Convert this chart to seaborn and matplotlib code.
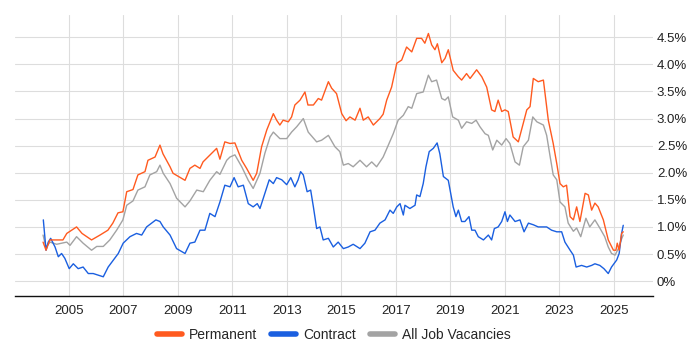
import seaborn as sns
import pandas as pd
import matplotlib.pyplot as plt
from matplotlib.ticker import FuncFormatter

# Permanent
perm_year = [2004.05, 2004.16, 2004.30, 2004.78, 2004.92, 2005.28, 2005.48, 2005.83, 2006.14, 2006.43,
             2006.61, 2006.80, 2006.98, 2007.12, 2007.35, 2007.53, 2007.79, 2007.90, 2008.16, 2008.34,
             2008.45, 2008.71, 2008.82, 2009.26, 2009.44, 2009.62, 2009.81, 2009.92, 2010.24, 2010.42,
             2010.54, 2010.72, 2010.91, 2011.09, 2011.34, 2011.52, 2011.76, 2011.89, 2012.07, 2012.26,
             2012.50, 2012.62, 2012.74, 2012.86, 2013.05, 2013.17, 2013.29, 2013.48, 2013.66, 2013.77,
             2013.97, 2014.15, 2014.27, 2014.52, 2014.64, 2014.82, 2015.01, 2015.17, 2015.31, 2015.50,
             2015.68, 2015.80, 2015.98, 2016.17, 2016.41, 2016.53, 2016.66, 2016.84, 2017.03, 2017.21,
             2017.39, 2017.58, 2017.76, 2017.94, 2018.06, 2018.19, 2018.31, 2018.43, 2018.52, 2018.68,
             2018.80, 2018.92, 2019.10, 2019.29, 2019.41, 2019.59, 2019.72, 2019.96, 2020.15, 2020.33,
             2020.51, 2020.63, 2020.75, 2020.88, 2021.00, 2021.12, 2021.30, 2021.49, 2021.67, 2021.80,
             2021.92, 2022.04, 2022.22, 2022.41, 2022.59, 2022.77, 2022.90, 2023.02, 2023.14, 2023.26,
             2023.39, 2023.51, 2023.63, 2023.75, 2023.94, 2024.06, 2024.18, 2024.30, 2024.42, 2024.61,
             2024.79, 2024.98, 2025.07, 2025.12, 2025.19, 2025.28, 2025.34]
perm_pct = [0.72, 0.57, 0.76, 0.76, 0.88, 1.00, 0.88, 0.76, 0.85, 0.94,
            1.07, 1.26, 1.28, 1.65, 1.69, 1.96, 2.02, 2.23, 2.29, 2.51,
            2.35, 2.11, 1.99, 1.86, 2.08, 2.14, 2.08, 2.20, 2.36, 2.45,
            2.25, 2.57, 2.54, 2.55, 2.23, 2.08, 1.86, 1.99, 2.48, 2.79,
            3.09, 2.97, 2.88, 2.97, 2.94, 3.03, 3.25, 3.34, 3.49, 3.25,
            3.25, 3.37, 3.34, 3.68, 3.56, 3.46, 3.09, 2.96, 3.03, 2.97,
            3.19, 2.97, 3.03, 2.88, 3.00, 3.08, 3.34, 3.58, 4.02, 4.08,
            4.32, 4.23, 4.48, 4.48, 4.39, 4.57, 4.36, 4.27, 4.38, 4.03,
            4.11, 4.27, 3.89, 3.77, 3.71, 3.83, 3.74, 3.90, 3.77, 3.58,
            3.16, 3.13, 3.34, 3.13, 3.16, 3.13, 2.66, 2.57, 2.91, 3.16,
            3.22, 3.74, 3.68, 3.71, 2.97, 2.54, 2.17, 1.80, 1.74, 1.77,
            1.19, 1.13, 1.37, 1.10, 1.62, 1.59, 1.31, 1.44, 1.37, 1.13,
            0.76, 0.57, 0.57, 0.70, 0.57, 0.88, 0.91]

# Contract
contract_year = [2004.06, 2004.16, 2004.24, 2004.33, 2004.49, 2004.61, 2004.73, 2004.85, 2005.01, 2005.16,
                 2005.34, 2005.52, 2005.71, 2005.89, 2006.08, 2006.26, 2006.44, 2006.63, 2006.81, 2006.99,
                 2007.24, 2007.48, 2007.67, 2007.85, 2008.03, 2008.19, 2008.34, 2008.46, 2008.71, 2008.95,
                 2009.26, 2009.44, 2009.62, 2009.81, 2009.99, 2010.17, 2010.36, 2010.54, 2010.72, 2010.91,
                 2011.06, 2011.21, 2011.40, 2011.58, 2011.76, 2011.91, 2012.01, 2012.19, 2012.35, 2012.50,
                 2012.62, 2012.81, 2012.99, 2013.14, 2013.29, 2013.41, 2013.50, 2013.60, 2013.74, 2013.87,
                 2013.97, 2014.09, 2014.21, 2014.33, 2014.52, 2014.70, 2014.88, 2015.07, 2015.25, 2015.43,
                 2015.68, 2015.86, 2016.05, 2016.23, 2016.41, 2016.60, 2016.78, 2016.90, 2017.03, 2017.15,
                 2017.27, 2017.33, 2017.51, 2017.70, 2017.76, 2017.88, 2018.00, 2018.10, 2018.22, 2018.37,
                 2018.51, 2018.61, 2018.74, 2018.92, 2019.10, 2019.20, 2019.29, 2019.41, 2019.53, 2019.68,
                 2019.78, 2019.90, 2020.02, 2020.21, 2020.39, 2020.51, 2020.61, 2020.75, 2020.88, 2021.00,
                 2021.09, 2021.18, 2021.37, 2021.55, 2021.70, 2021.86, 2022.04, 2022.22, 2022.53, 2022.71,
                 2022.90, 2023.08, 2023.20, 2023.39, 2023.51, 2023.61, 2023.81, 2024.00, 2024.18, 2024.30,
                 2024.48, 2024.63, 2024.79, 2024.91, 2025.10, 2025.19, 2025.28, 2025.34]
contract_pct = [1.13, 0.57, 0.72, 0.79, 0.63, 0.45, 0.51, 0.42, 0.23, 0.32,
                0.23, 0.26, 0.14, 0.14, 0.11, 0.08, 0.26, 0.39, 0.51, 0.70,
                0.82, 0.88, 0.85, 1.00, 1.07, 1.13, 1.10, 1.00, 0.85, 0.60,
                0.51, 0.70, 0.72, 0.94, 0.94, 1.25, 1.19, 1.46, 1.77, 1.74,
                1.91, 1.74, 1.77, 1.43, 1.37, 1.43, 1.34, 1.62, 1.87, 1.80,
                1.91, 1.87, 1.78, 1.91, 1.74, 1.87, 2.02, 1.96, 1.65, 1.68,
                1.37, 0.97, 1.00, 0.76, 0.79, 0.63, 0.72, 0.60, 0.63, 0.68,
                0.60, 0.70, 0.91, 0.94, 1.07, 1.13, 1.31, 1.25, 1.37, 1.43,
                1.22, 1.40, 1.34, 1.40, 1.59, 1.56, 1.80, 2.11, 2.39, 2.45,
                2.55, 2.35, 1.93, 1.86, 1.37, 1.19, 1.31, 1.10, 1.10, 1.19,
                0.94, 0.94, 0.82, 0.76, 0.85, 0.76, 0.97, 1.00, 1.10, 1.28,
                1.10, 1.22, 1.10, 1.13, 0.91, 1.07, 1.04, 1.00, 1.00, 0.94,
                0.91, 0.91, 0.72, 0.57, 0.48, 0.26, 0.29, 0.26, 0.29, 0.32,
                0.29, 0.23, 0.14, 0.26, 0.39, 0.51, 0.88, 1.03]

# All Job Vacancies
all_year = [2004.05, 2004.16, 2004.30, 2004.55, 2004.92, 2005.04, 2005.28, 2005.52, 2005.83, 2006.02,
            2006.26, 2006.50, 2006.75, 2006.98, 2007.12, 2007.35, 2007.53, 2007.79, 2007.97, 2008.22,
            2008.34, 2008.46, 2008.71, 2008.95, 2009.26, 2009.44, 2009.69, 2009.93, 2010.17, 2010.42,
            2010.54, 2010.79, 2010.91, 2011.09, 2011.34, 2011.58, 2011.76, 2012.01, 2012.19, 2012.38,
            2012.50, 2012.74, 2012.99, 2013.17, 2013.36, 2013.60, 2013.78, 2014.09, 2014.27, 2014.52,
            2014.76, 2014.94, 2015.07, 2015.25, 2015.43, 2015.68, 2015.92, 2016.11, 2016.29, 2016.53,
            2016.72, 2016.90, 2017.08, 2017.27, 2017.45, 2017.58, 2017.76, 2018.00, 2018.19, 2018.31,
            2018.49, 2018.68, 2018.80, 2018.92, 2019.08, 2019.29, 2019.41, 2019.59, 2019.78, 2019.94,
            2020.08, 2020.27, 2020.39, 2020.55, 2020.70, 2020.88, 2021.04, 2021.18, 2021.37, 2021.53,
            2021.67, 2021.86, 2022.02, 2022.17, 2022.41, 2022.53, 2022.65, 2022.77, 2022.90, 2023.02,
            2023.20, 2023.32, 2023.51, 2023.63, 2023.78, 2023.97, 2024.11, 2024.30, 2024.48, 2024.66,
            2024.79, 2024.91, 2025.04, 2025.16, 2025.28, 2025.34]
all_pct = [0.85, 0.62, 0.72, 0.68, 0.72, 0.66, 0.82, 0.70, 0.57, 0.64,
           0.64, 0.76, 0.94, 1.13, 1.40, 1.48, 1.68, 1.74, 1.96, 2.02,
           2.14, 1.99, 1.80, 1.53, 1.37, 1.48, 1.68, 1.65, 1.86, 2.02,
           1.97, 2.23, 2.29, 2.33, 2.11, 1.86, 1.71, 1.99, 2.36, 2.66,
           2.75, 2.63, 2.63, 2.75, 2.85, 3.00, 2.75, 2.57, 2.60, 2.69,
           2.48, 2.39, 2.14, 2.17, 2.11, 2.23, 2.11, 2.20, 2.11, 2.29,
           2.51, 2.72, 2.97, 3.06, 3.22, 3.19, 3.46, 3.49, 3.80, 3.68,
           3.71, 3.37, 3.34, 3.40, 3.03, 2.97, 2.82, 2.94, 2.91, 2.97,
           2.85, 2.72, 2.69, 2.42, 2.60, 2.51, 2.63, 2.54, 2.20, 2.14,
           2.48, 2.60, 3.03, 2.94, 2.88, 2.69, 2.32, 1.96, 1.87, 1.46,
           1.37, 1.07, 0.92, 0.98, 0.82, 1.16, 1.00, 1.13, 0.98, 0.82,
           0.63, 0.51, 0.48, 0.60, 0.78, 0.85]

series_names = ["Permanent", "Contract", "All Job Vacancies"]
colors = ["#FF5A1F", "#1A5FE0", "#A3A3A3"]
year_ticks = [2005, 2007, 2009, 2011, 2013, 2015, 2017, 2019, 2021, 2023, 2025]
pct_ticks = [0, 0.5, 1.0, 1.5, 2.0, 2.5, 3.0, 3.5, 4.0, 4.5]

df = pd.concat([
    pd.DataFrame({"year": perm_year, "pct": perm_pct, "series": series_names[0]}),
    pd.DataFrame({"year": contract_year, "pct": contract_pct, "series": series_names[1]}),
    pd.DataFrame({"year": all_year, "pct": all_pct, "series": series_names[2]}),
])

sns.set_style("white")
plt.rcParams["font.family"] = ["Liberation Sans", "DejaVu Sans"]

fig = plt.figure(figsize=(7, 3.5), dpi=100)
ax = fig.add_axes([0.0214, 0.155, 0.911, 0.802])

# gray first so it sits underneath the other two
for name, col in zip(series_names[::-1], colors[::-1]):
    sns.lineplot(data=df[df["series"] == name], x="year", y="pct", color=col,
                 linewidth=1.0, ax=ax, label=name, estimator=None)

ax.set_xlim(2003.02, 2026.42)
ax.set_ylim(-0.27, 4.91)
ax.set_xticks(year_ticks)
ax.set_xticklabels([str(y) for y in year_ticks])
ax.set_yticks(pct_ticks)
ax.yaxis.set_major_formatter(FuncFormatter(lambda v, p: "0%" if v == 0 else f"{v:.1f}%"))
ax.yaxis.tick_right()
ax.tick_params(axis="y", length=0, pad=3, labelsize=9.5, labelcolor="#222222")
ax.tick_params(axis="x", length=4, width=0.8, color="#333333", labelsize=9.5, labelcolor="#222222", pad=3)
ax.grid(True, color="#DDDDDD", linewidth=0.8)
ax.set_axisbelow(True)
for s in ["top", "left", "right"]:
    ax.spines[s].set_visible(False)
ax.spines["bottom"].set_color("#111111")
ax.spines["bottom"].set_linewidth(1.0)
ax.set_xlabel("")
ax.set_ylabel("")

handles, labels = ax.get_legend_handles_labels()
order = [labels.index(n) for n in series_names]
leg = ax.legend([handles[i] for i in order], series_names, loc="center",
                bbox_to_anchor=(0.5, -0.14), ncol=3, frameon=False, fontsize=10,
                handlelength=1.8, handletextpad=0.5, columnspacing=1.0)
for h, col in zip(leg.get_lines(), colors):
    h.set_linewidth(4)
    h.set_color(col)

fig.savefig("out.png", dpi=100)
